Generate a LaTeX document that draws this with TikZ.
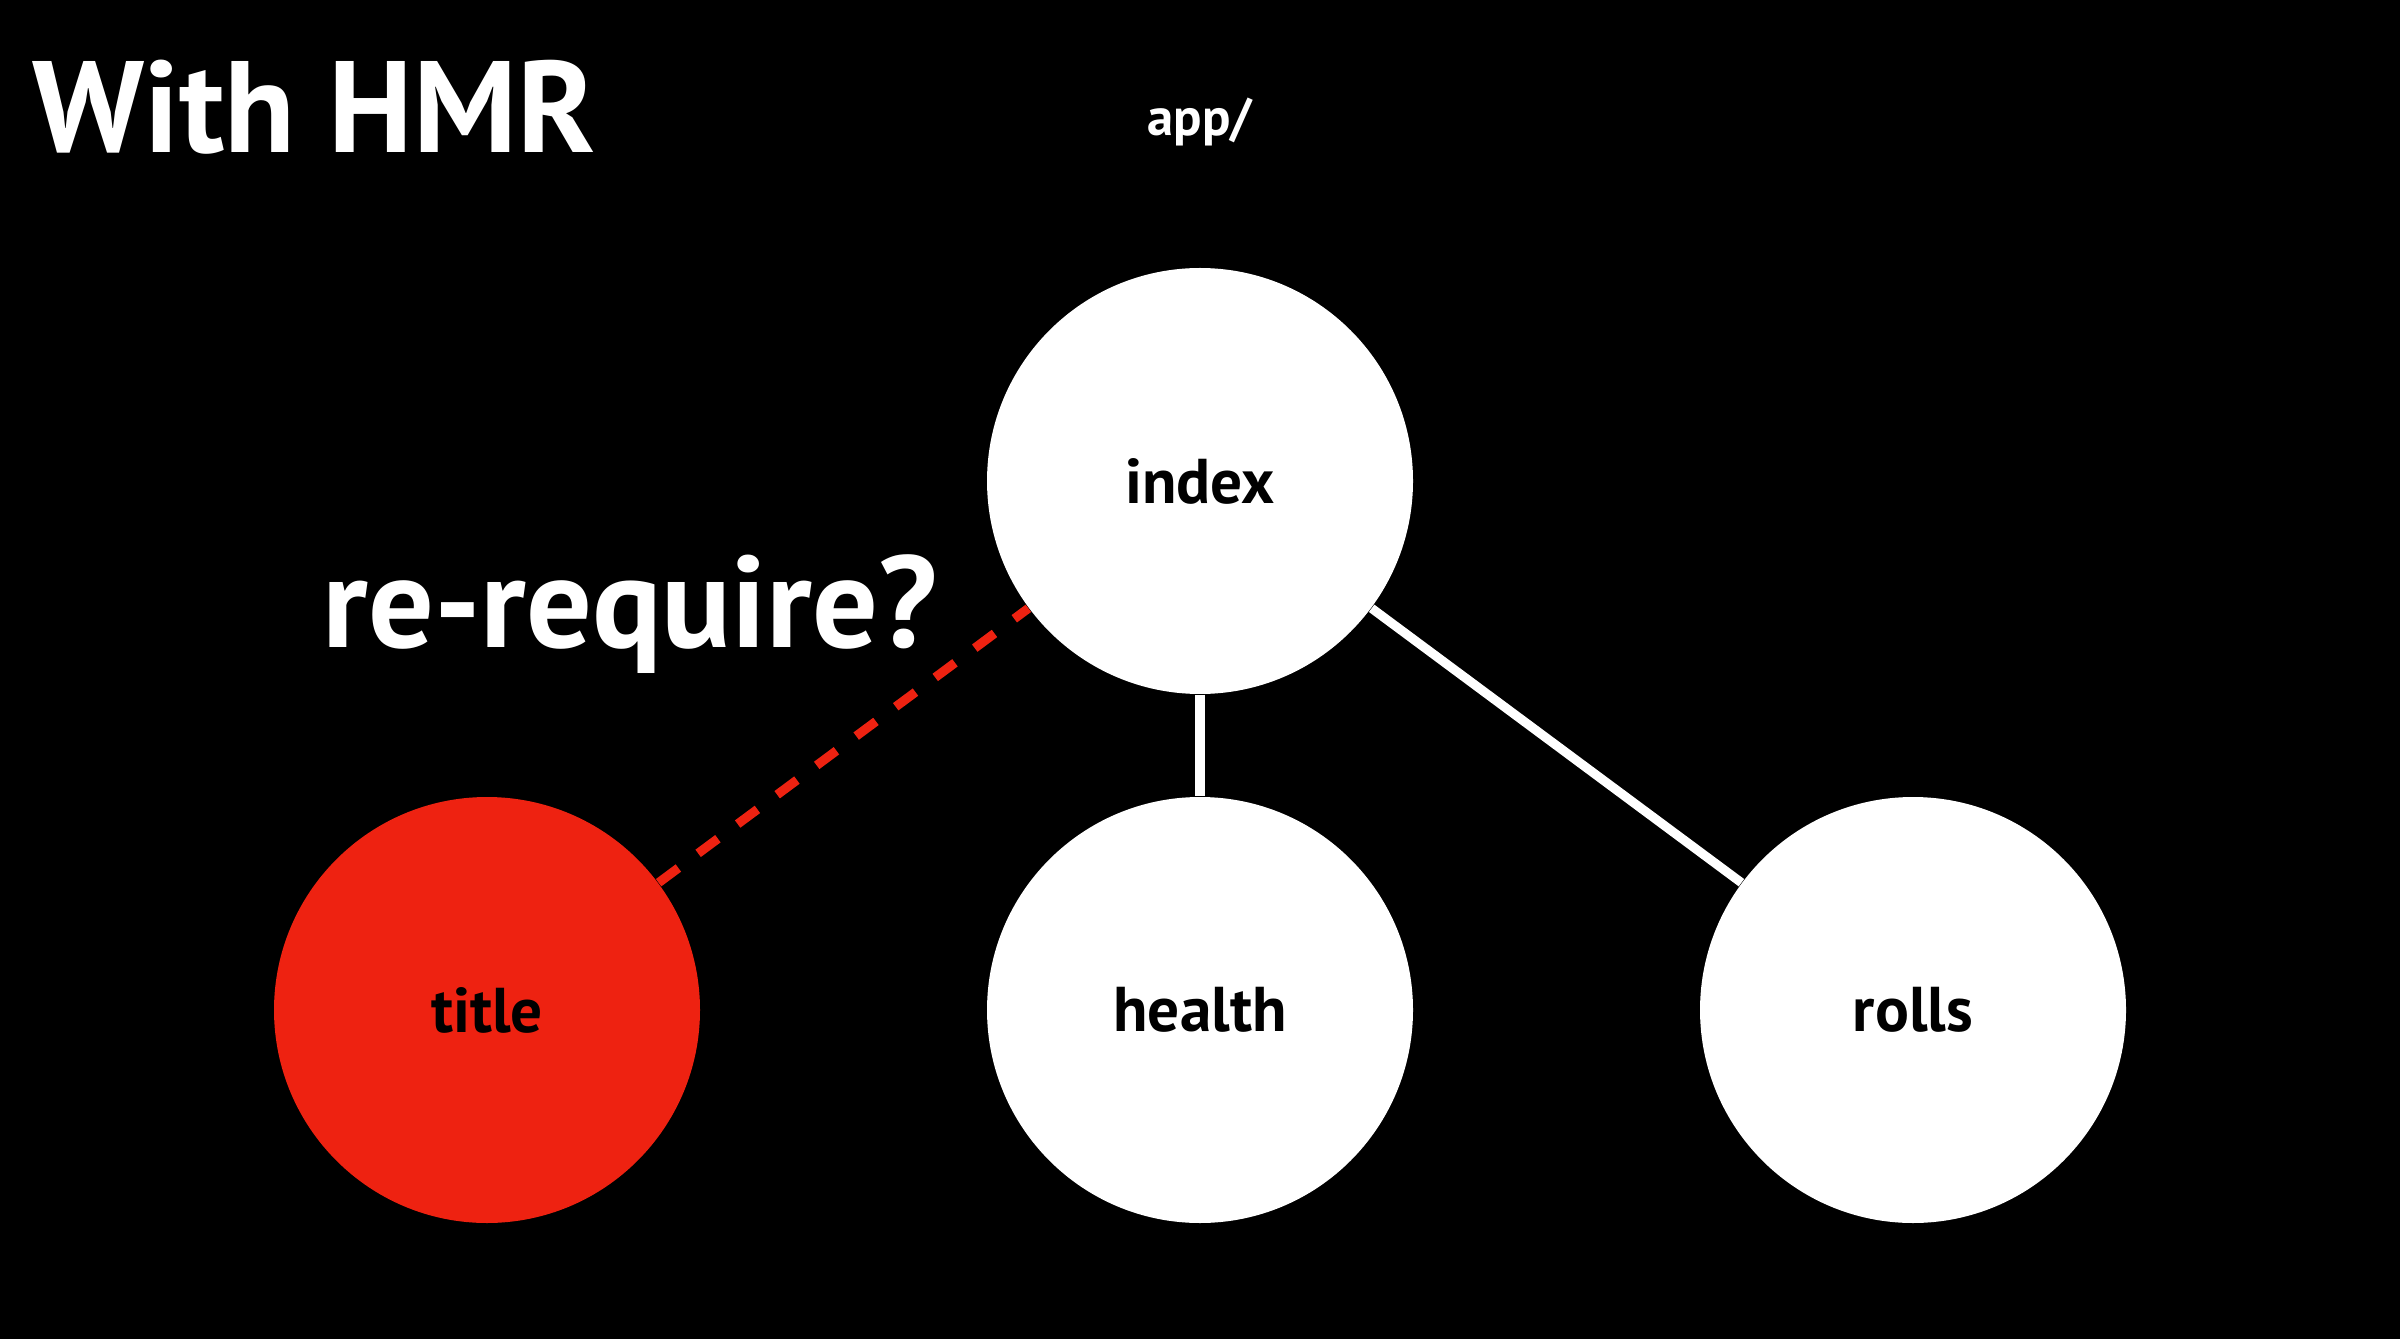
\documentclass[tikz,border=0pt]{standalone}
\usepackage{fontspec}
\setmainfont{PT Sans}
\definecolor{hmrred}{HTML}{EE2211}
\tikzset{
  module/.style={circle, fill=white, minimum size=4.26cm, inner sep=0pt, font=\bfseries\fontsize{18}{20}\selectfont},
  link/.style={white, line width=2.6pt},
}
\begin{document}
\begin{tikzpicture}
    \fill[black] (0,0) rectangle (24,13.39);
    \useasboundingbox (0,0) rectangle (24,13.39);

    \node[white, anchor=base west, font=\bfseries\fontsize{37}{40}\selectfont] (heading) at (0.2,11.86) {With HMR};
    \node[white, font=\bfseries\fontsize{15}{18}\selectfont] (appdir) at (12,12.17) {app/};

    \node[module] (index) at (12,8.58) {index};
    \node[module, fill=hmrred] (title) at (4.87,3.29) {title};
    \node[module] (health) at (12,3.29) {health};
    \node[module] (rolls) at (19.13,3.29) {rolls};

    \node[white, anchor=base west, font=\bfseries\fontsize{37}{40}\selectfont] (question) at (3.1,6.91) {re-require?};

    \draw[link] (index) -- (health);
    \draw[link] (index) -- (rolls);
    \draw[hmrred, line width=2.6pt, dash pattern=on 7pt off 7pt] (title) -- (index);
\end{tikzpicture}
\end{document}
